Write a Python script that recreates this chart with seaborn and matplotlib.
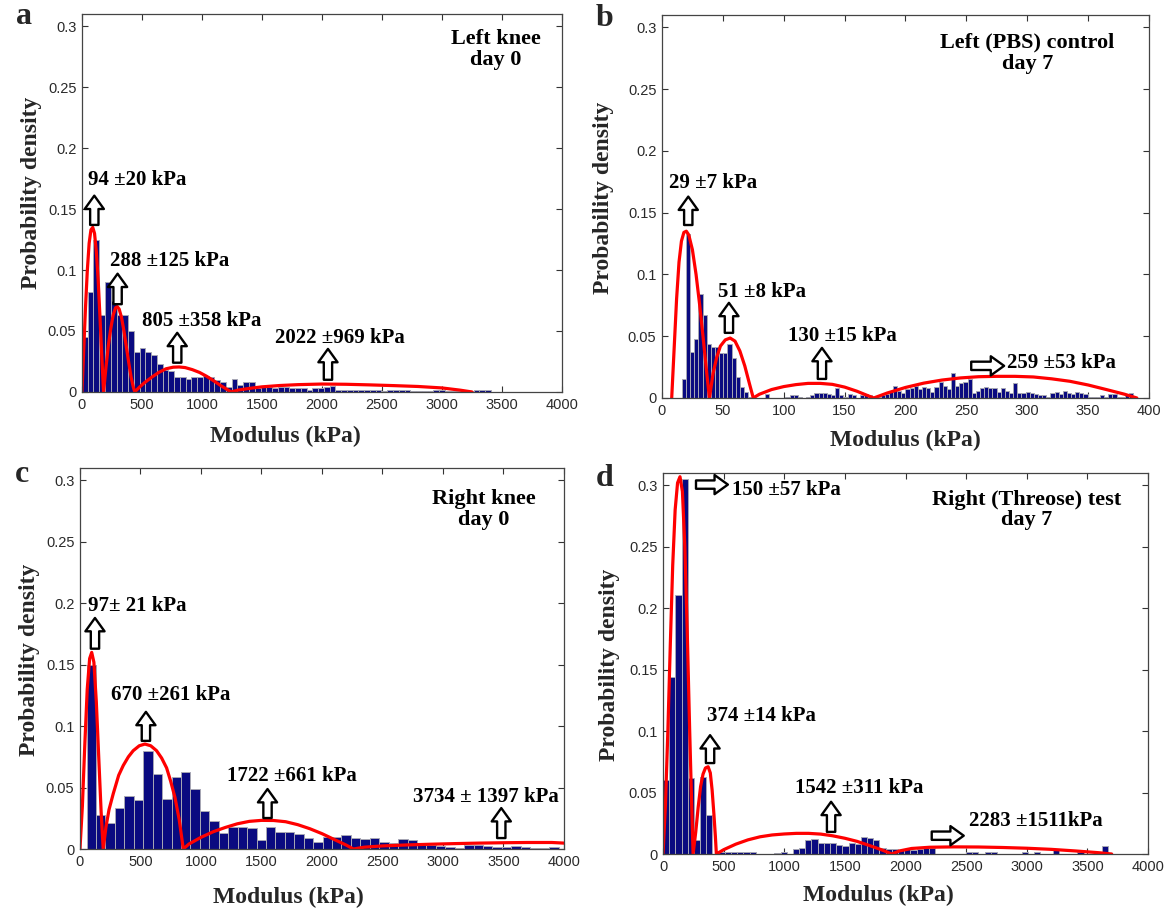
import numpy as np
import pandas as pd
import matplotlib
matplotlib.use("Agg")
import matplotlib.pyplot as plt
import seaborn as sns

# ---------------- data ----------------
# Panel a: Left knee day 0
a_bin_start, a_bin_width = 0.0, 48.0
a_heights = [0.045, 0.082, 0.125, 0.063, 0.090, 0.075, 0.063, 0.063, 0.050, 0.033,
             0.036, 0.033, 0.030, 0.023, 0.018, 0.017, 0.012, 0.012, 0.011, 0.012,
             0.012, 0.013, 0.012, 0.010, 0.008, 0.004, 0.011, 0.006, 0.008, 0.008,
             0.003, 0.004, 0.004, 0.0035, 0.004, 0.004, 0.003, 0.003, 0.003, 0.002,
             0.003, 0.003, 0.004, 0.005, 0.0015, 0.002, 0.002, 0.002, 0.0015, 0.002,
             0.002, 0.002, 0.001, 0.0015, 0.002, 0.002, 0.0015, 0.001, 0.0005, 0.001,
             0.001, 0.0015, 0.0015, 0.001, 0.0005, 0.0005, 0.0005, 0.001, 0.0015, 0.002,
             0.002]
a_fit_x = [0, 15, 30, 45, 60, 75, 90, 105, 120, 135, 150, 165, 180,
           200, 220, 240, 260, 280, 295, 310, 330, 350, 370, 390, 410, 428, 440,
           480, 520, 580, 640, 700, 760, 810, 860, 920, 980, 1040, 1100, 1160, 1210, 1244,
           1300, 1400, 1500, 1650, 1800, 2000, 2200, 2400, 2600, 2800, 3000, 3150, 3250]
a_fit_y = [0, 0.035, 0.070, 0.100, 0.122, 0.133, 0.135, 0.130, 0.115, 0.092, 0.062, 0.030, 0,
           0.020, 0.038, 0.052, 0.063, 0.069, 0.070, 0.068, 0.061, 0.050, 0.037, 0.024, 0.012, 0.004, 0,
           0.004, 0.0075, 0.012, 0.016, 0.019, 0.0203, 0.0205, 0.020, 0.0183, 0.016, 0.0128, 0.009, 0.005, 0.002, 0,
           0.0015, 0.003, 0.0042, 0.0053, 0.006, 0.0065, 0.0063, 0.0058, 0.0052, 0.0045, 0.0033, 0.0015, 0]
a_labels = ["94 \u00b120 kPa", "288 \u00b1125 kPa", "805 \u00b1358 kPa", "2022 \u00b1969 kPa"]
a_title = "Left knee\nday 0"

# Panel b: Left (PBS) control day 7
b_bin_start, b_bin_width = 16.4, 3.4
b_heights = [0.015, 0.133, 0.037, 0.048, 0.084, 0.067, 0.044, 0.041, 0.041, 0.036,
             0.036, 0.044, 0.032, 0.017, 0.009, 0.005, 0.001, 0.0, 0.0, 0.0,
             0.003, 0.0, 0.0, 0.0, 0.0, 0.001, 0.002, 0.002, 0.001, 0.0,
             0.001, 0.002, 0.004, 0.004, 0.004, 0.003, 0.002, 0.008, 0.002, 0.001,
             0.003, 0.002, 0.0, 0.002, 0.003, 0.002, 0.0, 0.001, 0.002, 0.003,
             0.006, 0.010, 0.006, 0.004, 0.007, 0.008, 0.010, 0.007, 0.009, 0.008,
             0.005, 0.009, 0.013, 0.010, 0.007, 0.020, 0.010, 0.012, 0.013, 0.015,
             0.004, 0.006, 0.008, 0.009, 0.008, 0.008, 0.005, 0.008, 0.006, 0.004,
             0.012, 0.004, 0.004, 0.005, 0.004, 0.003, 0.002, 0.002, 0.001, 0.004,
             0.005, 0.003, 0.006, 0.004, 0.003, 0.005, 0.004, 0.003, 0.001, 0.001,
             0.001, 0.002, 0.001, 0.003, 0.003, 0.001, 0.001, 0.002, 0.004, 0.001]
b_fit_x = [8, 10, 12, 14, 16, 18, 20, 22, 25, 28, 31, 34, 37, 39,
           42, 45, 48, 52, 56, 60, 64, 68, 72, 75,
           80, 90, 100, 110, 120, 130, 140, 150, 160, 170, 174,
           185, 200, 215, 230, 245, 260, 275, 290, 305, 320, 335, 350, 365, 380, 390]
b_fit_y = [0, 0.040, 0.080, 0.110, 0.127, 0.134, 0.135, 0.132, 0.120, 0.100, 0.075, 0.047, 0.018, 0,
           0.020, 0.033, 0.042, 0.047, 0.0485, 0.046, 0.038, 0.026, 0.011, 0,
           0.003, 0.0068, 0.0092, 0.0108, 0.0118, 0.0118, 0.011, 0.0088, 0.0055, 0.0015, 0,
           0.004, 0.0085, 0.012, 0.0145, 0.0162, 0.0172, 0.0175, 0.0175, 0.017, 0.0155, 0.0135, 0.0105, 0.0068, 0.003, 0]
b_labels = ["29 \u00b17 kPa", "51 \u00b18 kPa", "130 \u00b115 kPa", "259 \u00b153 kPa"]
b_title = "Left (PBS) control\nday 7"

# Panel c: Right knee day 0
c_bin_start, c_bin_width = 55.0, 78.0
c_heights = [0.150, 0.028, 0.021, 0.033, 0.043, 0.040, 0.080, 0.061, 0.041, 0.059,
             0.063, 0.049, 0.031, 0.023, 0.013, 0.018, 0.018, 0.017, 0.007, 0.018,
             0.014, 0.014, 0.012, 0.009, 0.006, 0.010, 0.010, 0.011, 0.009, 0.008,
             0.009, 0.006, 0.005, 0.008, 0.007, 0.003, 0.003, 0.0025, 0.002, 0.0005,
             0.003, 0.003, 0.0025, 0.002, 0.0015, 0.0025, 0.002, 0.0005, 0.001, 0.0015]
c_fit_x = [0, 20, 40, 60, 80, 97, 115, 135, 155, 175, 192,
           215, 240, 275, 320, 358, 400, 440, 490, 537, 585, 633, 675, 716, 750, 785, 820, 854,
           900, 1000, 1100, 1200, 1300, 1400, 1500, 1600, 1700, 1800, 1900, 2000, 2100, 2200, 2260,
           2350, 2500, 2700, 2900, 3100, 3300, 3500, 3700, 3900, 4000]
c_fit_y = [0, 0.035, 0.085, 0.130, 0.155, 0.160, 0.152, 0.120, 0.075, 0.030, 0,
           0.018, 0.032, 0.045, 0.060, 0.068, 0.075, 0.080, 0.084, 0.0854, 0.084, 0.080, 0.074, 0.066, 0.055, 0.042, 0.024, 0,
           0.004, 0.0095, 0.014, 0.0175, 0.0205, 0.0225, 0.0233, 0.0232, 0.0222, 0.0198, 0.0165, 0.0125, 0.0078, 0.0032, 0,
           0.0015, 0.0025, 0.0033, 0.0039, 0.0044, 0.0048, 0.0051, 0.0053, 0.0053, 0.0048]
c_labels = ["97\u00b1 21 kPa", "670 \u00b1261 kPa", "1722 \u00b1661 kPa", "3734 \u00b1 1397 kPa"]
c_title = "Right knee\nday 0"

# Panel d: Right (Threose) test day 7
d_bin_start, d_bin_width = 0.0, 51.0
d_heights = [0.060, 0.144, 0.211, 0.305, 0.062, 0.011, 0.063, 0.032, 0.0, 0.002,
             0.002, 0.002, 0.002, 0.002, 0.002, 0.0, 0.0, 0.0, 0.001, 0.002,
             0.0, 0.004, 0.005, 0.011, 0.012, 0.009, 0.009, 0.0092, 0.007, 0.0065,
             0.0087, 0.008, 0.014, 0.0127, 0.0114, 0.0046, 0.004, 0.004, 0.0035, 0.004,
             0.0035, 0.004, 0.005, 0.005, 0.0, 0.0, 0.0, 0.0, 0.0, 0.002,
             0.002, 0.0, 0.002, 0.002, 0.0, 0.0, 0.0, 0.0, 0.002, 0.0,
             0.002, 0.0, 0.0, 0.003, 0.0, 0.0, 0.0, 0.002, 0.0, 0.0,
             0.0, 0.0065]
d_fit_x = [0, 20, 40, 60, 80, 100, 120, 140, 160, 180, 200, 220, 235, 248,
           270, 290, 310, 330, 350, 372, 390, 405, 420, 432, 440,
           500, 600, 700, 800, 900, 1000, 1100, 1200, 1300, 1400, 1500, 1600, 1700, 1800, 1887,
           1950, 2050, 2200, 2400, 2600, 2800, 3000, 3200, 3400, 3600, 3700]
d_fit_y = [0, 0.040, 0.100, 0.170, 0.235, 0.280, 0.302, 0.307, 0.295, 0.250, 0.180, 0.100, 0.045, 0,
           0.018, 0.038, 0.055, 0.065, 0.070, 0.071, 0.066, 0.052, 0.032, 0.014, 0,
           0.0035, 0.008, 0.0115, 0.014, 0.0155, 0.0163, 0.0168, 0.0168, 0.0162, 0.0148, 0.0128, 0.0103, 0.007, 0.0035, 0,
           0.0025, 0.0045, 0.0055, 0.0058, 0.0057, 0.0053, 0.0047, 0.0038, 0.0025, 0.001, 0]
d_labels = ["150 \u00b157 kPa", "374 \u00b114 kPa", "1542 \u00b1311 kPa", "2283 \u00b11511kPa"]
d_title = "Right (Threose) test\nday 7"

# ---------------- style ----------------
sns.set_theme(style="ticks")
plt.rcParams["font.family"] = ["Liberation Sans", "DejaVu Sans"]
SERIF = ["Liberation Serif", "DejaVu Serif"]
BAR = "#0a0a80"
BAR_EDGE = "#a8a8b4"
RED = "#ff0000"

fig = plt.figure(figsize=(11.64, 9.09), dpi=100)


def make_panel(rect, heights, start, width, fit_x, fit_y, xmax, xstep):
    ax = fig.add_axes(rect)
    heights = np.asarray(heights, dtype=float)
    n = len(heights)
    centers = start + width * (np.arange(n) + 0.5)
    hist_df = pd.DataFrame({"modulus": centers, "density": heights})
    sns.histplot(data=hist_df, x="modulus", weights="density",
                 binwidth=width, binrange=(start, start + width * n), ax=ax,
                 stat="count", color=BAR, alpha=1.0, edgecolor=BAR_EDGE, linewidth=0.7)
    fit_df = pd.DataFrame({"modulus": fit_x, "density": fit_y})
    sns.lineplot(data=fit_df, x="modulus", y="density", ax=ax, color=RED, linewidth=2.3,
                 sort=False, estimator=None)
    ax.set_xlim(0, xmax)
    ax.set_ylim(0, 0.31)
    ax.set_xticks(np.arange(0, xmax + 1, xstep))
    ax.set_yticks([0, 0.05, 0.1, 0.15, 0.2, 0.25, 0.3])
    ax.set_yticklabels(["0", "0.05", "0.1", "0.15", "0.2", "0.25", "0.3"])
    ax.set_xlabel("")
    ax.set_ylabel("")
    ax.tick_params(direction="in", top=True, right=True, length=4, width=0.8,
                   labelsize=10.5, pad=4, colors="#333333", labelcolor="#2a2a2a")
    for s in ax.spines.values():
        s.set_color("#444444")
        s.set_linewidth(0.9)
        s.set_visible(True)
    return ax


def up_arrow(ax, x, y0, y1):
    ax.annotate("", xy=(x, y1), xytext=(x, y0),
                arrowprops=dict(arrowstyle="simple,head_length=0.8,head_width=1.15,tail_width=0.5",
                                fc="white", ec="black", lw=1.7, mutation_scale=12,
                                shrinkA=0, shrinkB=0))


def right_arrow(ax, x0, x1, y):
    ax.annotate("", xy=(x1, y), xytext=(x0, y),
                arrowprops=dict(arrowstyle="simple,head_length=0.8,head_width=1.15,tail_width=0.5",
                                fc="white", ec="black", lw=1.7, mutation_scale=12,
                                shrinkA=0, shrinkB=0))


def label(ax, x, y, s, size=15, ha="left"):
    ax.text(x, y, s, ha=ha, va="center", fontsize=size, fontweight="bold",
            family=SERIF, color="black")


def title(ax, x, y, s):
    ax.text(x, y, s, ha="center", va="center", fontsize=16, fontweight="bold",
            family=SERIF, color="black", linespacing=1.05)


# Panel a
ax = make_panel([0.0704, 0.5688, 0.4124, 0.4158], a_heights, a_bin_start, a_bin_width,
                a_fit_x, a_fit_y, 4000, 500)
up_arrow(ax, 103, 0.137, 0.161); label(ax, 50, 0.174, a_labels[0])
up_arrow(ax, 297, 0.072, 0.097); label(ax, 233, 0.1076, a_labels[1])
up_arrow(ax, 794, 0.024, 0.0485); label(ax, 497, 0.0583, a_labels[2])
up_arrow(ax, 2050, 0.010, 0.0353); label(ax, 1608, 0.0443, a_labels[3])
title(ax, 3450, 0.281, a_title)

# Panel b
ax = make_panel([0.5687, 0.5622, 0.4184, 0.4213], b_heights, b_bin_start, b_bin_width,
                b_fit_x, b_fit_y, 400, 50)
up_arrow(ax, 21.6, 0.140, 0.163); label(ax, 5.7, 0.174, b_labels[0])
up_arrow(ax, 55, 0.0527, 0.077); label(ax, 46, 0.086, b_labels[1])
up_arrow(ax, 131.4, 0.0154, 0.0405); label(ax, 103.5, 0.0503, b_labels[2])
right_arrow(ax, 254, 281, 0.026); label(ax, 283, 0.0283, b_labels[3])
title(ax, 300, 0.279, b_title)

# Panel c
ax = make_panel([0.0687, 0.0660, 0.4158, 0.4191], c_heights, c_bin_start, c_bin_width,
                c_fit_x, c_fit_y, 4000, 500)
up_arrow(ax, 124, 0.163, 0.188); label(ax, 69, 0.198, c_labels[0])
up_arrow(ax, 545, 0.088, 0.1116); label(ax, 253, 0.125, c_labels[1])
up_arrow(ax, 1550, 0.0252, 0.0488); label(ax, 1217, 0.0593, c_labels[2])
up_arrow(ax, 3482, 0.0089, 0.0333); label(ax, 2751, 0.0425, c_labels[3])
title(ax, 3336, 0.276, c_title)

# Panel d
ax = make_panel([0.5696, 0.0605, 0.4167, 0.4191], d_heights, d_bin_start, d_bin_width,
                d_fit_x, d_fit_y, 4000, 500)
right_arrow(ax, 272, 535, 0.3006); label(ax, 566, 0.2965, d_labels[0])
up_arrow(ax, 388, 0.074, 0.0967); label(ax, 366, 0.112, d_labels[1])
up_arrow(ax, 1386, 0.018, 0.0425); label(ax, 1089, 0.0534, d_labels[2])
right_arrow(ax, 2216, 2480, 0.0149); label(ax, 2526, 0.0271, d_labels[3])
title(ax, 3000, 0.280, d_title)

# axis labels and panel letters (figure coordinates)
W, H = 1164.0, 909.0
for (x, y) in [(285, 436), (905, 440), (288, 897), (878, 895)]:
    fig.text(x / W, 1 - y / H, "Modulus (kPa)", ha="center", va="center",
             fontsize=17, fontweight="bold", family=SERIF)
for (x, y) in [(32, 193), (603, 198), (30, 660), (610, 665)]:
    fig.text(x / W, 1 - y / H, "Probability density", ha="center", va="center",
             rotation=90, fontsize=17, fontweight="bold", family=SERIF)
for (x, y, s) in [(24, 16, "a"), (605, 18, "b"), (22, 474, "c"), (605, 478, "d")]:
    fig.text(x / W, 1 - y / H, s, ha="center", va="center",
             fontsize=23, fontweight="bold", family=SERIF)

fig.savefig("out.png", dpi=100, facecolor="white")
